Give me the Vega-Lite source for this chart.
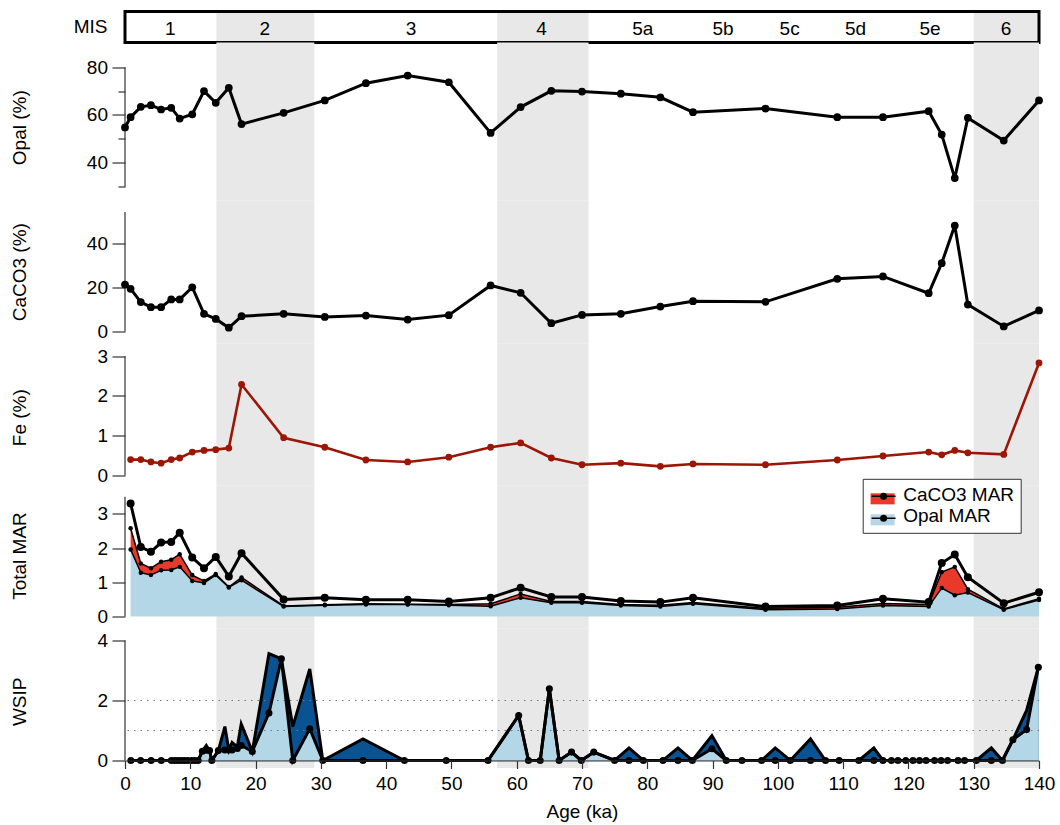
{
  "$schema": "https://vega.github.io/schema/vega-lite/v6.json",
  "padding": {"left": 10, "top": 9.5, "right": 5, "bottom": 2},
  "bounds": "flush",
  "spacing": 0,
  "datasets": {
    "bands": [
      {"start": 14, "end": 29},
      {"start": 57, "end": 71},
      {"start": 130, "end": 140}
    ],
    "stages": [
      {"stage": "1", "mid": 6.95},
      {"stage": "2", "mid": 21.4},
      {"stage": "3", "mid": 43.8},
      {"stage": "4", "mid": 63.8},
      {"stage": "5a", "mid": 79.3},
      {"stage": "5b", "mid": 91.6},
      {"stage": "5c", "mid": 101.8},
      {"stage": "5d", "mid": 111.9},
      {"stage": "5e", "mid": 123.3},
      {"stage": "6", "mid": 134.95}
    ],
    "sediment": [
      {"age": 0.0, "opal": 54.8, "caco3": 21.2},
      {"age": 0.86, "opal": 59.1, "caco3": 19.3},
      {"age": 2.42, "opal": 63.4, "caco3": 13.3},
      {"age": 3.97, "opal": 64.1, "caco3": 11.0},
      {"age": 5.53, "opal": 62.3, "caco3": 11.0},
      {"age": 7.08, "opal": 63.0, "caco3": 14.5},
      {"age": 8.38, "opal": 58.5, "caco3": 14.5},
      {"age": 10.3, "opal": 60.3, "caco3": 20.0},
      {"age": 12.1, "opal": 70.0, "caco3": 8.0},
      {"age": 13.9, "opal": 65.1, "caco3": 5.7},
      {"age": 15.9, "opal": 71.4, "caco3": 1.7},
      {"age": 17.85, "opal": 56.2, "caco3": 6.9},
      {"age": 24.3, "opal": 60.9, "caco3": 8.0},
      {"age": 30.6, "opal": 66.1, "caco3": 6.6},
      {"age": 36.9, "opal": 73.3, "caco3": 7.2},
      {"age": 43.3, "opal": 76.5, "caco3": 5.4},
      {"age": 49.6, "opal": 73.7, "caco3": 7.4},
      {"age": 56.0, "opal": 52.5, "caco3": 20.8},
      {"age": 60.6, "opal": 63.3, "caco3": 17.5},
      {"age": 65.3, "opal": 70.1, "caco3": 3.75},
      {"age": 70.0, "opal": 69.8, "caco3": 7.5},
      {"age": 75.95, "opal": 68.9, "caco3": 8.0},
      {"age": 82.0, "opal": 67.4, "caco3": 11.3},
      {"age": 87.0, "opal": 61.2, "caco3": 13.7},
      {"age": 98.1, "opal": 62.7, "caco3": 13.4},
      {"age": 109.1, "opal": 59.1, "caco3": 23.8},
      {"age": 116.1, "opal": 59.1, "caco3": 24.9},
      {"age": 123.1, "opal": 61.6, "caco3": 17.3},
      {"age": 125.1, "opal": 51.8, "caco3": 30.9},
      {"age": 127.1, "opal": 33.6, "caco3": 47.9},
      {"age": 129.1, "opal": 58.8, "caco3": 12.2},
      {"age": 134.6, "opal": 49.3, "caco3": 2.3},
      {"age": 140.0, "opal": 66.1, "caco3": 9.5}
    ],
    "iron": [
      {"age": 0.86, "fe": 0.40},
      {"age": 2.42, "fe": 0.40},
      {"age": 3.97, "fe": 0.34},
      {"age": 5.53, "fe": 0.31},
      {"age": 7.08, "fe": 0.40},
      {"age": 8.38, "fe": 0.44},
      {"age": 10.3, "fe": 0.59},
      {"age": 12.1, "fe": 0.63},
      {"age": 13.9, "fe": 0.65},
      {"age": 15.9, "fe": 0.69},
      {"age": 17.85, "fe": 2.29},
      {"age": 24.3, "fe": 0.95},
      {"age": 30.6, "fe": 0.71},
      {"age": 36.9, "fe": 0.39},
      {"age": 43.3, "fe": 0.34},
      {"age": 49.6, "fe": 0.46},
      {"age": 56.0, "fe": 0.71},
      {"age": 60.6, "fe": 0.82},
      {"age": 65.3, "fe": 0.44},
      {"age": 70.0, "fe": 0.27},
      {"age": 75.95, "fe": 0.31},
      {"age": 82.0, "fe": 0.23},
      {"age": 87.0, "fe": 0.29},
      {"age": 98.1, "fe": 0.27},
      {"age": 109.1, "fe": 0.39},
      {"age": 116.1, "fe": 0.49},
      {"age": 123.1, "fe": 0.59},
      {"age": 125.1, "fe": 0.52},
      {"age": 127.1, "fe": 0.63},
      {"age": 129.1, "fe": 0.57},
      {"age": 134.6, "fe": 0.53},
      {"age": 140.0, "fe": 2.83}
    ],
    "mar": [
      {"age": 0.86, "component": "Opal MAR", "mar": 1.96}, {"age": 0.86, "component": "CaCO3 MAR", "mar": 0.62},
      {"age": 2.42, "component": "Opal MAR", "mar": 1.28}, {"age": 2.42, "component": "CaCO3 MAR", "mar": 0.27},
      {"age": 3.97, "component": "Opal MAR", "mar": 1.21}, {"age": 3.97, "component": "CaCO3 MAR", "mar": 0.20},
      {"age": 5.53, "component": "Opal MAR", "mar": 1.35}, {"age": 5.53, "component": "CaCO3 MAR", "mar": 0.25},
      {"age": 7.08, "component": "Opal MAR", "mar": 1.36}, {"age": 7.08, "component": "CaCO3 MAR", "mar": 0.30},
      {"age": 8.38, "component": "Opal MAR", "mar": 1.45}, {"age": 8.38, "component": "CaCO3 MAR", "mar": 0.37},
      {"age": 10.3, "component": "Opal MAR", "mar": 1.04}, {"age": 10.3, "component": "CaCO3 MAR", "mar": 0.17},
      {"age": 12.1, "component": "Opal MAR", "mar": 0.98}, {"age": 12.1, "component": "CaCO3 MAR", "mar": 0.06},
      {"age": 13.9, "component": "Opal MAR", "mar": 1.21}, {"age": 13.9, "component": "CaCO3 MAR", "mar": 0.03},
      {"age": 15.9, "component": "Opal MAR", "mar": 0.85}, {"age": 15.9, "component": "CaCO3 MAR", "mar": 0.01},
      {"age": 17.85, "component": "Opal MAR", "mar": 1.06}, {"age": 17.85, "component": "CaCO3 MAR", "mar": 0.08},
      {"age": 24.3, "component": "Opal MAR", "mar": 0.29}, {"age": 24.3, "component": "CaCO3 MAR", "mar": 0.02},
      {"age": 30.6, "component": "Opal MAR", "mar": 0.33}, {"age": 30.6, "component": "CaCO3 MAR", "mar": 0.01},
      {"age": 36.9, "component": "Opal MAR", "mar": 0.35}, {"age": 36.9, "component": "CaCO3 MAR", "mar": 0.02},
      {"age": 43.3, "component": "Opal MAR", "mar": 0.35}, {"age": 43.3, "component": "CaCO3 MAR", "mar": 0.01},
      {"age": 49.6, "component": "Opal MAR", "mar": 0.33}, {"age": 49.6, "component": "CaCO3 MAR", "mar": 0.02},
      {"age": 56.0, "component": "Opal MAR", "mar": 0.30}, {"age": 56.0, "component": "CaCO3 MAR", "mar": 0.07},
      {"age": 60.6, "component": "Opal MAR", "mar": 0.55}, {"age": 60.6, "component": "CaCO3 MAR", "mar": 0.11},
      {"age": 65.3, "component": "Opal MAR", "mar": 0.40}, {"age": 65.3, "component": "CaCO3 MAR", "mar": 0.04},
      {"age": 70.0, "component": "Opal MAR", "mar": 0.40}, {"age": 70.0, "component": "CaCO3 MAR", "mar": 0.04},
      {"age": 75.95, "component": "Opal MAR", "mar": 0.32}, {"age": 75.95, "component": "CaCO3 MAR", "mar": 0.03},
      {"age": 82.0, "component": "Opal MAR", "mar": 0.29}, {"age": 82.0, "component": "CaCO3 MAR", "mar": 0.04},
      {"age": 87.0, "component": "Opal MAR", "mar": 0.37}, {"age": 87.0, "component": "CaCO3 MAR", "mar": 0.04},
      {"age": 98.1, "component": "Opal MAR", "mar": 0.20}, {"age": 98.1, "component": "CaCO3 MAR", "mar": 0.04},
      {"age": 109.1, "component": "Opal MAR", "mar": 0.22}, {"age": 109.1, "component": "CaCO3 MAR", "mar": 0.05},
      {"age": 116.1, "component": "Opal MAR", "mar": 0.32}, {"age": 116.1, "component": "CaCO3 MAR", "mar": 0.06},
      {"age": 123.1, "component": "Opal MAR", "mar": 0.29}, {"age": 123.1, "component": "CaCO3 MAR", "mar": 0.06},
      {"age": 125.1, "component": "Opal MAR", "mar": 0.83}, {"age": 125.1, "component": "CaCO3 MAR", "mar": 0.47},
      {"age": 127.1, "component": "Opal MAR", "mar": 0.62}, {"age": 127.1, "component": "CaCO3 MAR", "mar": 0.83},
      {"age": 129.1, "component": "Opal MAR", "mar": 0.70}, {"age": 129.1, "component": "CaCO3 MAR", "mar": 0.10},
      {"age": 134.6, "component": "Opal MAR", "mar": 0.20}, {"age": 134.6, "component": "CaCO3 MAR", "mar": 0.02},
      {"age": 140.0, "component": "Opal MAR", "mar": 0.48}, {"age": 140.0, "component": "CaCO3 MAR", "mar": 0.04}
    ],
    "total": [
      {"age": 0.86, "total_mar": 3.30},
      {"age": 2.42, "total_mar": 2.03},
      {"age": 3.97, "total_mar": 1.89},
      {"age": 5.53, "total_mar": 2.16},
      {"age": 7.08, "total_mar": 2.18},
      {"age": 8.38, "total_mar": 2.45},
      {"age": 10.3, "total_mar": 1.72},
      {"age": 12.1, "total_mar": 1.41},
      {"age": 13.9, "total_mar": 1.74},
      {"age": 15.9, "total_mar": 1.17},
      {"age": 17.85, "total_mar": 1.85},
      {"age": 24.3, "total_mar": 0.50},
      {"age": 30.6, "total_mar": 0.55},
      {"age": 36.9, "total_mar": 0.49},
      {"age": 43.3, "total_mar": 0.49},
      {"age": 49.6, "total_mar": 0.44},
      {"age": 56.0, "total_mar": 0.55},
      {"age": 60.6, "total_mar": 0.84},
      {"age": 65.3, "total_mar": 0.57},
      {"age": 70.0, "total_mar": 0.57},
      {"age": 75.95, "total_mar": 0.45},
      {"age": 82.0, "total_mar": 0.42},
      {"age": 87.0, "total_mar": 0.55},
      {"age": 98.1, "total_mar": 0.29},
      {"age": 109.1, "total_mar": 0.32},
      {"age": 116.1, "total_mar": 0.52},
      {"age": 123.1, "total_mar": 0.42},
      {"age": 125.1, "total_mar": 1.56},
      {"age": 127.1, "total_mar": 1.81},
      {"age": 129.1, "total_mar": 1.15},
      {"age": 134.6, "total_mar": 0.39},
      {"age": 140.0, "total_mar": 0.71}
    ],
    "wsip": [
      {"age": 0.9, "wsip": 0, "wsip_max": 0},
      {"age": 2.4, "wsip": 0, "wsip_max": 0},
      {"age": 4.0, "wsip": 0, "wsip_max": 0},
      {"age": 5.55, "wsip": 0, "wsip_max": 0},
      {"age": 7.1, "wsip": 0, "wsip_max": 0},
      {"age": 7.6, "wsip": 0, "wsip_max": 0},
      {"age": 8.1, "wsip": 0, "wsip_max": 0},
      {"age": 8.6, "wsip": 0, "wsip_max": 0},
      {"age": 9.1, "wsip": 0, "wsip_max": 0},
      {"age": 9.6, "wsip": 0, "wsip_max": 0},
      {"age": 10.2, "wsip": 0, "wsip_max": 0},
      {"age": 10.7, "wsip": 0, "wsip_max": 0},
      {"age": 11.2, "wsip": 0, "wsip_max": 0},
      {"age": 11.85, "wsip": 0.31, "wsip_max": 0.31},
      {"age": 12.45, "wsip": 0.34, "wsip_max": 0.5},
      {"age": 12.95, "wsip": 0.33, "wsip_max": 0.33},
      {"age": 13.3, "wsip": 0, "wsip_max": 0},
      {"age": 14.3, "wsip": 0.33, "wsip_max": 0.33},
      {"age": 15.3, "wsip": 0.35, "wsip_max": 1.13},
      {"age": 15.9, "wsip": 0.35, "wsip_max": 0.35},
      {"age": 16.4, "wsip": 0.35, "wsip_max": 0.6},
      {"age": 17.2, "wsip": 0.4, "wsip_max": 0.45},
      {"age": 17.8, "wsip": 0.5, "wsip_max": 1.22},
      {"age": 19.5, "wsip": 0.3, "wsip_max": 0.3},
      {"age": 22.05, "wsip": 1.58, "wsip_max": 3.56},
      {"age": 23.95, "wsip": 3.39, "wsip_max": 3.39},
      {"age": 25.7, "wsip": 0, "wsip_max": 1.13},
      {"age": 28.3, "wsip": 1.06, "wsip_max": 3.05},
      {"age": 30.3, "wsip": 0, "wsip_max": 0},
      {"age": 36.45, "wsip": 0, "wsip_max": 0.72},
      {"age": 42.8, "wsip": 0, "wsip_max": 0},
      {"age": 49.2, "wsip": 0, "wsip_max": 0},
      {"age": 55.6, "wsip": 0, "wsip_max": 0},
      {"age": 60.3, "wsip": 1.5, "wsip_max": 1.5},
      {"age": 61.8, "wsip": 0, "wsip_max": 0},
      {"age": 63.6, "wsip": 0, "wsip_max": 0},
      {"age": 65.0, "wsip": 2.39, "wsip_max": 2.39},
      {"age": 66.5, "wsip": 0, "wsip_max": 0},
      {"age": 68.4, "wsip": 0.28, "wsip_max": 0.28},
      {"age": 69.9, "wsip": 0, "wsip_max": 0},
      {"age": 71.8, "wsip": 0.28, "wsip_max": 0.28},
      {"age": 75.0, "wsip": 0, "wsip_max": 0},
      {"age": 77.2, "wsip": 0, "wsip_max": 0.42},
      {"age": 79.4, "wsip": 0, "wsip_max": 0},
      {"age": 82.4, "wsip": 0, "wsip_max": 0},
      {"age": 84.7, "wsip": 0, "wsip_max": 0.42},
      {"age": 86.9, "wsip": 0, "wsip_max": 0},
      {"age": 89.9, "wsip": 0.39, "wsip_max": 0.83},
      {"age": 92.1, "wsip": 0, "wsip_max": 0},
      {"age": 94.5, "wsip": 0, "wsip_max": 0},
      {"age": 97.5, "wsip": 0, "wsip_max": 0},
      {"age": 99.6, "wsip": 0, "wsip_max": 0.42},
      {"age": 101.9, "wsip": 0, "wsip_max": 0},
      {"age": 105.0, "wsip": 0, "wsip_max": 0.72},
      {"age": 107.3, "wsip": 0, "wsip_max": 0},
      {"age": 109.4, "wsip": 0, "wsip_max": 0},
      {"age": 112.4, "wsip": 0, "wsip_max": 0},
      {"age": 114.7, "wsip": 0, "wsip_max": 0.42},
      {"age": 116.1, "wsip": 0, "wsip_max": 0},
      {"age": 117.4, "wsip": 0, "wsip_max": 0},
      {"age": 118.4, "wsip": 0, "wsip_max": 0},
      {"age": 119.6, "wsip": 0, "wsip_max": 0},
      {"age": 120.7, "wsip": 0, "wsip_max": 0},
      {"age": 121.7, "wsip": 0, "wsip_max": 0},
      {"age": 122.7, "wsip": 0, "wsip_max": 0},
      {"age": 124.0, "wsip": 0, "wsip_max": 0},
      {"age": 125.0, "wsip": 0, "wsip_max": 0},
      {"age": 126.0, "wsip": 0, "wsip_max": 0},
      {"age": 127.6, "wsip": 0, "wsip_max": 0},
      {"age": 128.6, "wsip": 0, "wsip_max": 0},
      {"age": 130.4, "wsip": 0, "wsip_max": 0},
      {"age": 132.7, "wsip": 0, "wsip_max": 0.42},
      {"age": 134.4, "wsip": 0, "wsip_max": 0},
      {"age": 136.0, "wsip": 0.69, "wsip_max": 0.69},
      {"age": 138.1, "wsip": 1.03, "wsip_max": 1.67},
      {"age": 139.9, "wsip": 3.11, "wsip_max": 3.11}
    ]
  },
  "resolve": {
    "scale": {"fill": "independent", "stroke": "independent"},
    "legend": {"fill": "independent", "stroke": "independent"}
  },
  "vconcat": [
    {
      "width": 914,
      "height": 31,
      "title": {"text": "MIS", "orient": "left", "angle": 0, "align": "left", "baseline": "middle", "anchor": "middle", "offset": 16, "fontSize": 19, "fontWeight": "normal", "color": "black"},
      "layer": [
        {
          "data": {"name": "bands"},
          "mark": {"type": "rect", "color": "#e8e8e8"},
          "encoding": {
            "x": {"field": "start", "type": "quantitative", "scale": {"domain": [0, 140], "nice": false, "zero": false}, "axis": null},
            "x2": {"field": "end"}
          }
        },
        {
          "data": {"name": "stages"},
          "mark": {"type": "text", "fontSize": 19, "color": "black", "dy": 1.5},
          "encoding": {
            "x": {"field": "mid", "type": "quantitative", "axis": null},
            "text": {"field": "stage"}
          }
        },
        {
          "data": {"values": [{}]},
          "mark": {"type": "rect", "filled": false, "color": "black", "strokeWidth": 3},
          "encoding": {
            "x": {"datum": 0, "type": "quantitative", "axis": null},
            "x2": {"datum": 140}
          }
        }
      ]
    },
    {
      "width": 914,
      "height": 158,
      "resolve": {"axis": {"y": "independent"}},
      "layer": [
        {
          "data": {"name": "bands"},
          "mark": {"type": "rect", "color": "#e8e8e8"},
          "encoding": {
            "x": {"field": "start", "type": "quantitative", "scale": {"domain": [0, 140], "nice": false, "zero": false}, "axis": null},
            "x2": {"field": "end"}
          }
        },
        {
          "data": {"values": [{}]},
          "mark": {"type": "rule", "color": "#333", "strokeWidth": 1.2},
          "encoding": {
            "x": {"datum": 0, "type": "quantitative", "axis": null},
            "y": {
              "datum": 30, "type": "quantitative",
              "scale": {"domain": [24.23, 90.33], "nice": false, "zero": false},
              "axis": {"orient": "left", "values": [30, 50, 70], "tickSize": 7, "labels": false, "title": null, "domain": false}
            },
            "y2": {"datum": 80}
          }
        },
        {
          "data": {"name": "sediment"},
          "mark": {"type": "line", "color": "black", "strokeWidth": 3, "point": {"filled": true, "color": "black", "size": 60}},
          "encoding": {
            "x": {"field": "age", "type": "quantitative", "axis": null},
            "y": {
              "field": "opal", "type": "quantitative",
              "scale": {"domain": [24.23, 90.33], "nice": false, "zero": false},
              "axis": {
                "orient": "left",
                "title": "Opal (%)", "titleX": -105.5, "titleY": 84.7, "titleBaseline": "middle",
                "values": [40, 60, 80],
                "tickSize": 13,
                "labelPadding": 4.5, "domain": false
              }
            }
          }
        }
      ]
    },
    {
      "width": 914,
      "height": 143,
      "layer": [
        {
          "data": {"name": "bands"},
          "mark": {"type": "rect", "color": "#e8e8e8"},
          "encoding": {
            "x": {"field": "start", "type": "quantitative", "scale": {"domain": [0, 140], "nice": false, "zero": false}, "axis": null},
            "x2": {"field": "end"}
          }
        },
        {
          "data": {"values": [{}]},
          "mark": {"type": "rule", "color": "#333", "strokeWidth": 1.2},
          "encoding": {
            "x": {"datum": 0, "type": "quantitative", "axis": null},
            "y": {"datum": 0, "type": "quantitative"},
            "y2": {"datum": 54}
          }
        },
        {
          "data": {"name": "sediment"},
          "mark": {"type": "line", "color": "black", "strokeWidth": 3, "point": {"filled": true, "color": "black", "size": 60}},
          "encoding": {
            "x": {"field": "age", "type": "quantitative", "axis": null},
            "y": {
              "field": "caco3", "type": "quantitative",
              "scale": {"domain": [-5.42, 59.21], "nice": false, "zero": false},
              "axis": {
                "title": "CaCO3 (%)", "titleX": -105.5, "titleY": 71.2, "titleBaseline": "middle",
                "values": [0, 10, 20, 30, 40, 50],
                "labelExpr": "datum.value % 20 === 0 ? datum.label : ''",
                "tickSize": 13,
                "encode": {"ticks": {"update": {"x2": {"signal": "datum.value % 20 === 0 ? -13 : -7"}}}},
                "labelPadding": 4.5, "domain": false
              }
            }
          }
        }
      ]
    },
    {
      "width": 914,
      "height": 142,
      "layer": [
        {
          "data": {"name": "bands"},
          "mark": {"type": "rect", "color": "#e8e8e8"},
          "encoding": {
            "x": {"field": "start", "type": "quantitative", "scale": {"domain": [0, 140], "nice": false, "zero": false}, "axis": null},
            "x2": {"field": "end"}
          }
        },
        {
          "data": {"values": [{}]},
          "mark": {"type": "rule", "color": "#333", "strokeWidth": 1.2},
          "encoding": {
            "x": {"datum": 0, "type": "quantitative", "axis": null},
            "y": {"datum": 0, "type": "quantitative"},
            "y2": {"datum": 3}
          }
        },
        {
          "data": {"name": "iron"},
          "mark": {"type": "line", "color": "#9b1606", "strokeWidth": 2.6, "point": {"filled": true, "color": "#9b1606", "size": 46}},
          "encoding": {
            "x": {"field": "age", "type": "quantitative", "axis": null},
            "y": {
              "field": "fe", "type": "quantitative",
              "scale": {"domain": [-0.2515, 3.319], "nice": false, "zero": false},
              "axis": {
                "title": "Fe (%)", "titleX": -105.5, "titleY": 73.7, "titleBaseline": "middle",
                "values": [0, 0.5, 1, 1.5, 2, 2.5, 3],
                "labelExpr": "datum.value % 1 === 0 ? datum.label : ''",
                "tickSize": 13,
                "encode": {"ticks": {"update": {"x2": {"signal": "datum.value % 1 === 0 ? -13 : -7"}}}},
                "labelPadding": 4.5, "domain": false
              }
            }
          }
        }
      ]
    },
    {
      "width": 914,
      "height": 143,
      "layer": [
        {
          "data": {"name": "bands"},
          "mark": {"type": "rect", "color": "#e8e8e8"},
          "encoding": {
            "x": {"field": "start", "type": "quantitative", "scale": {"domain": [0, 140], "nice": false, "zero": false}, "axis": null},
            "x2": {"field": "end"}
          }
        },
        {
          "data": {"values": [{}]},
          "mark": {"type": "rule", "color": "#333", "strokeWidth": 1.2},
          "encoding": {
            "x": {"datum": 0, "type": "quantitative", "axis": null},
            "y": {"datum": 0, "type": "quantitative"},
            "y2": {"datum": 3.5}
          }
        },
        {
          "data": {"name": "mar"},
          "transform": [
            {"stack": "mar", "groupby": ["age"], "sort": [{"field": "component", "order": "descending"}], "as": ["mar_lo", "mar_hi"]}
          ],
          "layer": [
            {
              "mark": {"type": "area", "opacity": 1},
              "encoding": {
                "x": {"field": "age", "type": "quantitative", "axis": null},
                "y": {
                  "field": "mar_hi", "type": "quantitative",
                  "scale": {"domain": [-0.3506, 3.827], "nice": false, "zero": false},
                  "axis": {
                    "title": "Total MAR", "titleX": -105.5, "titleY": 70, "titleBaseline": "middle",
                    "values": [0, 0.5, 1, 1.5, 2, 2.5, 3, 3.5],
                    "labelExpr": "datum.value % 1 === 0 ? datum.label : ''",
                    "tickSize": 13,
                    "encode": {"ticks": {"update": {"x2": {"signal": "datum.value % 1 === 0 ? -13 : -7"}}}},
                    "labelPadding": 4.5, "domain": false
                  }
                },
                "y2": {"field": "mar_lo"},
                "fill": {
                  "field": "component", "type": "nominal",
                  "scale": {"range": ["#e8392a", "#b4d7e7"]},
                  "legend": {
                    "orient": "none", "legendX": 737.7, "legendY": -6.7, "title": null,
                    "symbolType": "M-0.82,-0.19H1.467V0.86H-0.82Z", "symbolSize": 441, "symbolStrokeWidth": 0,
                    "labelFontSize": 19, "labelOffset": 13.5, "padding": 6, "rowPadding": 0,
                    "labelExpr": "datum.label + '\u00a0\u00a0\u00a0'",
                    "strokeColor": "#333", "fillColor": "white"
                  }
                }
              }
            },
            {
              "mark": {"type": "line", "strokeWidth": 1.5},
              "encoding": {
                "x": {"field": "age", "type": "quantitative"},
                "y": {"field": "mar_hi", "type": "quantitative"},
                "stroke": {
                  "field": "component", "type": "nominal",
                  "scale": {"domain": ["CaCO3 MAR", "Opal MAR"], "range": ["black", "black"]},
                  "legend": {
                    "orient": "none", "legendX": 737.7, "legendY": -6.7, "title": null,
                    "symbolType": "M-0.82,0H1.467M0.584,0A0.26,0.26 0 1,1 0.064,0A0.26,0.26 0 1,1 0.584,0Z",
                    "symbolSize": 441, "symbolStrokeWidth": 1.6,
                    "labelFontSize": 19, "labelOffset": 13.5, "labelOpacity": 0, "padding": 6, "rowPadding": 0,
                    "encode": {"symbols": {"update": {"fill": {"value": "black"}, "stroke": {"value": "black"}}}}
                  }
                }
              }
            },
            {
              "mark": {"type": "point", "filled": true, "color": "black", "size": 20, "opacity": 1},
              "encoding": {
                "x": {"field": "age", "type": "quantitative"},
                "y": {"field": "mar_hi", "type": "quantitative"}
              }
            }
          ]
        },
        {
          "data": {"name": "total"},
          "mark": {"type": "line", "color": "black", "strokeWidth": 3, "point": {"filled": true, "color": "black", "size": 64}},
          "encoding": {
            "x": {"field": "age", "type": "quantitative"},
            "y": {"field": "total_mar", "type": "quantitative"}
          }
        }
      ]
    },
    {
      "width": 914,
      "height": 132,
      "layer": [
        {
          "data": {"name": "bands"},
          "mark": {"type": "rect", "color": "#e8e8e8"},
          "encoding": {
            "x": {
              "field": "start", "type": "quantitative",
              "scale": {"domain": [0, 140], "nice": false, "zero": false},
              "axis": {
                "title": "Age (ka)",
                "values": [0, 5, 10, 15, 20, 25, 30, 35, 40, 45, 50, 55, 60, 65, 70, 75, 80, 85, 90, 95, 100, 105, 110, 115, 120, 125, 130, 135, 140],
                "labelExpr": "datum.value % 10 === 0 ? datum.label : ''",
                "tickSize": 8,
                "encode": {"ticks": {"update": {"y2": {"signal": "datum.value % 10 === 0 ? 8 : 5"}}}},
                "labelPadding": 6, "titlePadding": 9, "labelOverlap": false, "labelFlush": false,
                "domainColor": "#333", "zindex": 1
              }
            },
            "x2": {"field": "end"},
            "y": {"datum": 4.4, "type": "quantitative"},
            "y2": {"datum": -0.25}
          }
        },
        {
          "data": {"values": [{}]},
          "mark": {"type": "rule", "color": "#333", "strokeWidth": 1.2},
          "encoding": {
            "x": {"datum": 0, "type": "quantitative"},
            "y": {"datum": 0, "type": "quantitative"},
            "y2": {"datum": 4}
          }
        },
        {
          "data": {"name": "wsip"},
          "layer": [
            {
              "mark": {"type": "area", "color": "#0a5392", "opacity": 1},
              "encoding": {
                "x": {"field": "age", "type": "quantitative"},
                "y": {
                  "field": "wsip_max", "type": "quantitative",
                  "scale": {"domain": [0, 4.4], "nice": false, "zero": false},
                  "axis": {
                    "title": "WSIP", "titleX": -105.5, "titleY": 72.8, "titleBaseline": "middle",
                    "values": [0, 1, 2, 3, 4],
                    "labelExpr": "datum.value % 2 === 0 ? datum.label : ''",
                    "tickSize": 13,
                    "labelPadding": 4.5, "domain": false,
                    "encode": {"ticks": {"update": {"x2": {"signal": "datum.value % 2 === 0 ? -13 : -7"}}}}
                  }
                }
              }
            },
            {
              "mark": {"type": "area", "color": "#b4d7e7", "opacity": 1},
              "encoding": {
                "x": {"field": "age", "type": "quantitative"},
                "y": {"field": "wsip", "type": "quantitative"}
              }
            },
            {
              "data": {"values": [{}]},
              "mark": {"type": "rule", "color": "#777", "strokeWidth": 1.2, "strokeDash": [1.5, 5]},
              "encoding": {"y": {"datum": 1, "type": "quantitative"}}
            },
            {
              "data": {"values": [{}]},
              "mark": {"type": "rule", "color": "#777", "strokeWidth": 1.2, "strokeDash": [1.5, 5]},
              "encoding": {"y": {"datum": 2, "type": "quantitative"}}
            },
            {
              "mark": {"type": "line", "color": "black", "strokeWidth": 3},
              "encoding": {
                "x": {"field": "age", "type": "quantitative"},
                "y": {"field": "wsip_max", "type": "quantitative"}
              }
            },
            {
              "mark": {"type": "line", "color": "black", "strokeWidth": 3, "point": {"filled": true, "color": "black", "size": 50}},
              "encoding": {
                "x": {"field": "age", "type": "quantitative"},
                "y": {"field": "wsip", "type": "quantitative"}
              }
            }
          ]
        }
      ]
    }
  ],
  "config": {
    "font": "Liberation Sans",
    "view": {"stroke": null},
    "axis": {
      "labelFontSize": 19, "titleFontSize": 19, "labelColor": "black", "titleColor": "black",
      "titleFontWeight": "normal", "tickColor": "#333", "tickWidth": 1.2, "grid": false, "labelOverlap": false
    },
    "legend": {"labelColor": "black", "labelFont": "Liberation Sans"}
  }
}
